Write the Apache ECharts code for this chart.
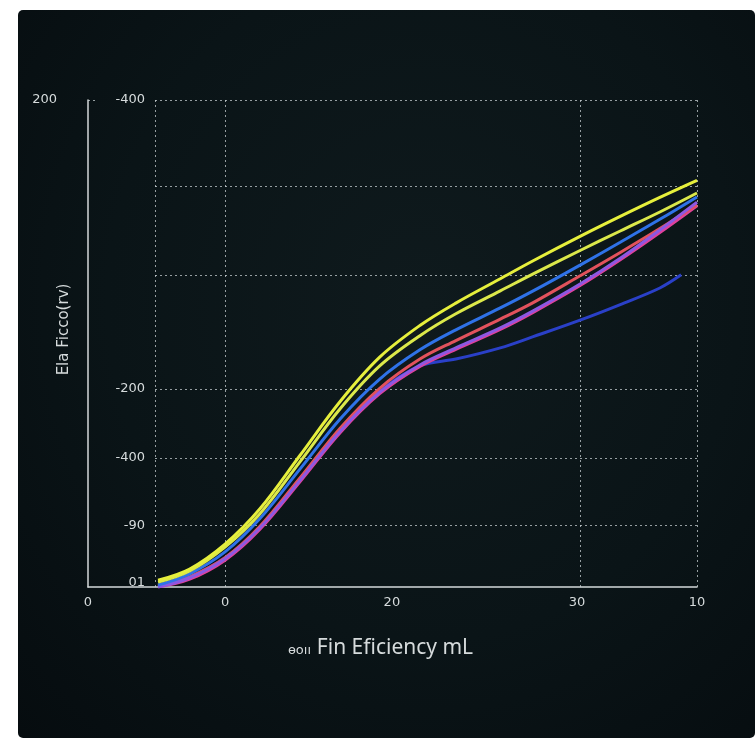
<!DOCTYPE html>
<html><head><meta charset="utf-8">
<script src="https://cdn.jsdelivr.net/npm/echarts@6/dist/echarts.min.js"></script>
<style>
html,body{margin:0;padding:0;background:#ffffff;width:755px;height:738px;overflow:hidden}
#panel{position:absolute;left:18px;top:10px;width:737px;height:728px;border-radius:5px;
background:radial-gradient(ellipse at 55% 40%, #0f1a1d 0%, #0a1417 55%, #060c0f 100%);}
#chart{position:absolute;left:0;top:0;width:755px;height:738px}
</style></head><body><div id="panel"></div><div id="chart"></div>
<script>
// ---- data ----
const xValues = [11.5, 16.7, 22.5, 28.2, 34.8, 41.4, 47.9, 54.5, 60.4, 67.7, 73.1, 80.8, 87.4, 93.9, 100];
const yellowA = [1.4, 3.7, 8.8, 16.0, 27.0, 38.1, 47.2, 53.7, 58.3, 63.3, 67.0, 72.0, 76.1, 80.0, 83.5];
const yellowB = [1.0, 3.3, 8.2, 15.0, 25.7, 36.6, 45.4, 51.6, 56.1, 60.8, 64.3, 69.1, 73.1, 77.0, 80.9];
const blueA   = [0.4, 2.7, 7.2, 14.0, 24.2, 34.5, 42.7, 48.7, 52.8, 57.3, 60.8, 66.1, 70.8, 75.5, 80.1];
const redA    = [0.2, 2.1, 6.0, 12.4, 22.4, 32.6, 40.8, 46.8, 50.6, 55.0, 58.4, 63.9, 68.7, 73.6, 78.5];
const purpleA = [0.0, 1.9, 5.8, 12.1, 21.9, 32.0, 40.0, 45.6, 49.1, 53.2, 56.7, 62.2, 67.5, 73.3, 79.0];
const magentaA= [0.0, 1.6, 5.5, 11.8, 21.6, 31.7, 39.7, 45.3, 48.8, 52.9, 56.4, 61.9, 67.2, 72.8, 78.3];
const darkBlueX = [11.5, 16.7, 22.5, 28.2, 34.8, 41.4, 47.9, 54.5, 60.4, 67.7, 73.1, 80.8, 87.4, 93.9, 97.4];
const darkBlueY = [0.2, 2.1, 6.0, 12.2, 22.2, 32.2, 40.2, 45.4, 46.8, 49.1, 51.4, 54.8, 58.0, 61.4, 64.1];

const xLabelValues = [0, 22.5, 49.9, 80.3, 100];
const xLabelTexts  = ['0', '0', '20', '30', '10'];
const yLabelValues = [0.8, 12.7, 26.5, 40.7, 100];
const yLabelTexts  = ['01', '-90', '-400', '-200', '-400'];
const yOuterLabelValues = [100];
const yOuterLabelTexts  = ['200'];
const xGridValues = [0, 12.9, 78.4, 100];
const yGridValues = [12.7, 26.5, 40.7, 64.1, 82.3, 100];

const xTitlePrefix = 'ɵoıı';
const xTitle = 'Fin Eficiency mL';
const yTitle = 'Ela Ficco(rv)';

// ---- chart ----
function pick(values, texts) {
  return function (v) {
    for (let i = 0; i < values.length; i++) if (Math.abs(values[i] - v) < 1e-6) return texts[i];
    return '';
  };
}
function zip(xs, ys) { return xs.map((x, i) => [x, ys[i]]); }

const txt = '#d6dbdc';
const gridCol = 'rgba(205,214,216,0.72)';
const font = 'DejaVu Sans';

// drawing order: bottom first
const lines = [
  { name: 'D', x: darkBlueX, y: darkBlueY, color: '#2a40c8' },
  { name: 'F', x: xValues, y: magentaA, color: '#e0409c' },
  { name: 'G', x: xValues, y: redA, color: '#e2525c' },
  { name: 'E', x: xValues, y: purpleA, color: '#8c58e2' },
  { name: 'C', x: xValues, y: blueA, color: '#2f72e8' },
  { name: 'B', x: xValues, y: yellowB, color: '#dbe84a' },
  { name: 'A', x: xValues, y: yellowA, color: '#e6ef3c' }
];

const chart = echarts.init(document.getElementById('chart'));
chart.setOption({
  backgroundColor: 'transparent',
  animation: false,
  textStyle: { fontFamily: font },
  grid: [
    { left: 88, right: 58, top: 100, bottom: 151 },
    { left: 155, right: 58, top: 100, bottom: 151 }
  ],
  xAxis: [
    {
      type: 'value', gridIndex: 0, min: 0, max: 100,
      axisLine: { show: true, lineStyle: { color: '#d4d9da', width: 1.5 } },
      axisTick: { show: false, customValues: xLabelValues },
      axisLabel: { customValues: xLabelValues, formatter: pick(xLabelValues, xLabelTexts),
                   color: txt, fontSize: 13, margin: 9, fontFamily: font },
      splitLine: { show: false },
      name: '{s|' + xTitlePrefix + '} {b|' + xTitle + '}',
      nameLocation: 'middle', nameGap: 51,
      nameTextStyle: {
        padding: [0, 24, 0, 0],
        rich: {
          s: { fontSize: 13, color: txt, fontFamily: font, verticalAlign: 'bottom', padding: [0, 2, 2, 0] },
          b: { fontSize: 21, color: txt, fontFamily: 'Noto Sans' }
        }
      }
    },
    {
      type: 'value', gridIndex: 1, min: 0, max: 100,
      axisLine: { show: false },
      axisTick: { show: false, customValues: xGridValues },
      axisLabel: { show: false },
      splitLine: { show: true, lineStyle: { type: [2, 3], color: gridCol, width: 1 } }
    }
  ],
  yAxis: [
    {
      type: 'value', gridIndex: 0, min: 0, max: 100,
      axisLine: { show: true, lineStyle: { color: '#d4d9da', width: 1.5 } },
      axisTick: { show: true, inside: true, length: 10, customValues: [100],
                  lineStyle: { type: [2, 3], color: gridCol } },
      axisLabel: { customValues: yLabelValues, formatter: pick(yLabelValues, yLabelTexts),
                   inside: true, margin: 57, align: 'right', color: txt, fontSize: 13, fontFamily: font },
      splitLine: { show: false },
      name: yTitle, nameLocation: 'middle', nameRotate: 90, nameGap: 16,
      nameTextStyle: { color: txt, fontSize: 15, fontFamily: font, padding: [0, 0, 0, 28] }
    },
    {
      type: 'value', gridIndex: 1, min: 0, max: 100,
      axisLine: { show: false },
      axisTick: { show: false, customValues: yGridValues },
      axisLabel: { show: false },
      splitLine: { show: true, lineStyle: { type: [2, 3], color: gridCol, width: 1 } }
    },
    {
      type: 'value', gridIndex: 0, min: 0, max: 100, position: 'left',
      axisLine: { show: false }, axisTick: { show: false }, splitLine: { show: false },
      axisLabel: { customValues: yOuterLabelValues, formatter: pick(yOuterLabelValues, yOuterLabelTexts),
                   margin: 31, color: txt, fontSize: 13, fontFamily: font }
    }
  ],
  series: lines.map(l => ({
    type: 'line', name: l.name, xAxisIndex: 0, yAxisIndex: 0,
    data: zip(l.x, l.y), smooth: 0.35, showSymbol: false, symbol: 'none',
    lineStyle: { color: l.color, width: 3 }, z: 3
  }))
});
</script></body></html>
